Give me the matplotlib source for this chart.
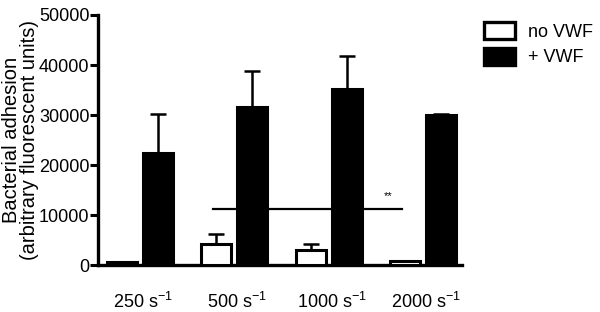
import matplotlib.pyplot as plt
import numpy as np

plt.rcParams['font.family'] = ['Liberation Sans', 'DejaVu Sans']
plt.rcParams['mathtext.fontset'] = 'custom'
plt.rcParams['mathtext.rm'] = 'Liberation Sans'
plt.rcParams['mathtext.it'] = 'Liberation Sans'
plt.rcParams['mathtext.default'] = 'regular'

groups = ['250 s$^{-1}$', '500 s$^{-1}$', '1000 s$^{-1}$', '2000 s$^{-1}$']
no_vwf = [600, 4200, 3000, 800]
no_vwf_err = [0, 2000, 1200, 0]
plus_vwf = [22400, 31600, 35200, 30000]
plus_vwf_err = [7800, 7200, 6600, 200]
sig_y = 11300
sig_text = '**'

fig = plt.figure(figsize=(6, 3.12), dpi=100)
ax = fig.add_axes([0.163, 0.150, 0.607, 0.802])

x = np.arange(len(groups))
w = 0.32
off = 0.19
lw = 2.2

ax.bar(x - off, no_vwf, w, color='white', edgecolor='black', linewidth=lw, zorder=3)
ax.bar(x + off, plus_vwf, w, color='black', edgecolor='black', linewidth=lw, zorder=3)
ax.errorbar(x - off, no_vwf, yerr=[np.zeros(4), no_vwf_err], fmt='none',
            ecolor='black', elinewidth=1.8, capsize=6, capthick=1.8, zorder=2)
ax.errorbar(x + off, plus_vwf, yerr=[np.zeros(4), plus_vwf_err], fmt='none',
            ecolor='black', elinewidth=1.8, capsize=6, capthick=1.8, zorder=2)

# significance bar
ax.plot([0.77, 2.78], [sig_y, sig_y], color='black', linewidth=1.6, zorder=4)
ax.text(2.63, sig_y + 2600, sig_text, fontsize=8, ha='center', va='center')

ax.set_xlim(-0.445, 3.41)
ax.set_ylim(0, 50000)
ax.set_yticks([0, 10000, 20000, 30000, 40000, 50000])
ax.set_xticks(x + 0.03)
ax.set_xticklabels(groups, fontsize=13)
ax.tick_params(axis='x', length=0, pad=19)
ax.tick_params(axis='y', length=6, width=2.2, labelsize=13, pad=0)
for s in ['top', 'right']:
    ax.spines[s].set_visible(False)
for s in ['left', 'bottom']:
    ax.spines[s].set_linewidth(2.4)

ax.set_ylabel('Bacterial adhesion\n(arbitrary fluorescent units)', fontsize=14.5,
              linespacing=0.9, labelpad=0)

h1 = plt.Rectangle((0, 0), 1, 1, facecolor='white', edgecolor='black', linewidth=2.4)
h2 = plt.Rectangle((0, 0), 1, 1, facecolor='black', edgecolor='black', linewidth=2.4)
fig.legend([h1, h2], ['no VWF', '+ VWF'], loc='upper left',
           bbox_to_anchor=(0.807, 0.93), frameon=False, fontsize=13,
           handlelength=1.7, handleheight=1.1, labelspacing=0.38,
           handletextpad=0.7, borderpad=0, borderaxespad=0)

fig.savefig('out.png', dpi=100)
